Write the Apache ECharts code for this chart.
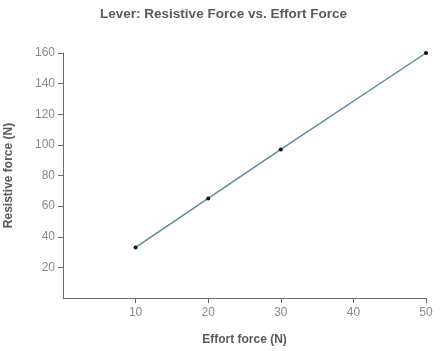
<!DOCTYPE html>
<html>
<head>
<meta charset="utf-8">
<script src="https://cdn.jsdelivr.net/npm/echarts@6/dist/echarts.min.js"></script>
<style>
  html, body { margin: 0; padding: 0; background: #fff; }
  #chart { width: 447px; height: 351px; }
</style>
</head>
<body>
<div id="chart"></div>
<script>
// effort force (N) vs resistive force (N)
var effortForce = [10, 20, 30, 50];
var resistiveForce = [33, 65, 97, 160];
var xTicks = [10, 20, 30, 40, 50];
var yTicks = [20, 40, 60, 80, 100, 120, 140, 160];

var chart = echarts.init(document.getElementById('chart'));
var points = [];
for (var i = 0; i < effortForce.length; i++) {
	points.push([effortForce[i], resistiveForce[i]]);
}
var axisColor = '#6b6b6b';
var labelColor = '#8a8a8a';
var option = {
	animation: false,
	title: {
		text: 'Lever: Resistive Force vs. Effort Force',
		left: 'center',
		top: 2,
		textStyle: { fontFamily: 'Liberation Sans', fontSize: 13.5, fontWeight: 'bold', color: '#5a5a5a' }
	},
	grid: { left: 63, right: 21, top: 53, bottom: 53, outerBoundsMode: 'none' },
	xAxis: {
		type: 'value',
		min: 0, max: 50, interval: 10,
		name: 'Effort force (N)',
		nameLocation: 'middle',
		nameGap: 36,
		nameTextStyle: { fontFamily: 'Liberation Sans', fontSize: 12, fontWeight: 'bold', color: '#5a5a5a' },
		axisLine: { show: true, lineStyle: { color: axisColor, width: 1 } },
		axisTick: { show: true, length: 5, lineStyle: { color: axisColor }, customValues: xTicks },
		axisLabel: { color: labelColor, fontFamily: 'Liberation Sans', fontSize: 12, margin: 9, customValues: xTicks },
		splitLine: { show: false }
	},
	yAxis: {
		type: 'value',
		min: 0, max: 160, interval: 20,
		name: 'Resistive force (N)',
		nameLocation: 'middle',
		nameGap: 48,
		nameTextStyle: { fontFamily: 'Liberation Sans', fontSize: 12, fontWeight: 'bold', color: '#5a5a5a' },
		axisLine: { show: true, lineStyle: { color: axisColor, width: 1 } },
		axisTick: { show: true, length: 5, lineStyle: { color: axisColor }, customValues: yTicks },
		axisLabel: { color: labelColor, fontFamily: 'Liberation Sans', fontSize: 12, margin: 8, customValues: yTicks },
		splitLine: { show: false }
	},
	series: [{
		type: 'line',
		data: points,
		symbol: 'circle',
		symbolSize: 4,
		itemStyle: { color: '#111' },
		lineStyle: { color: '#5a8ca0', width: 1.5 }
	}]
};
chart.setOption(option);
</script>
</body>
</html>
